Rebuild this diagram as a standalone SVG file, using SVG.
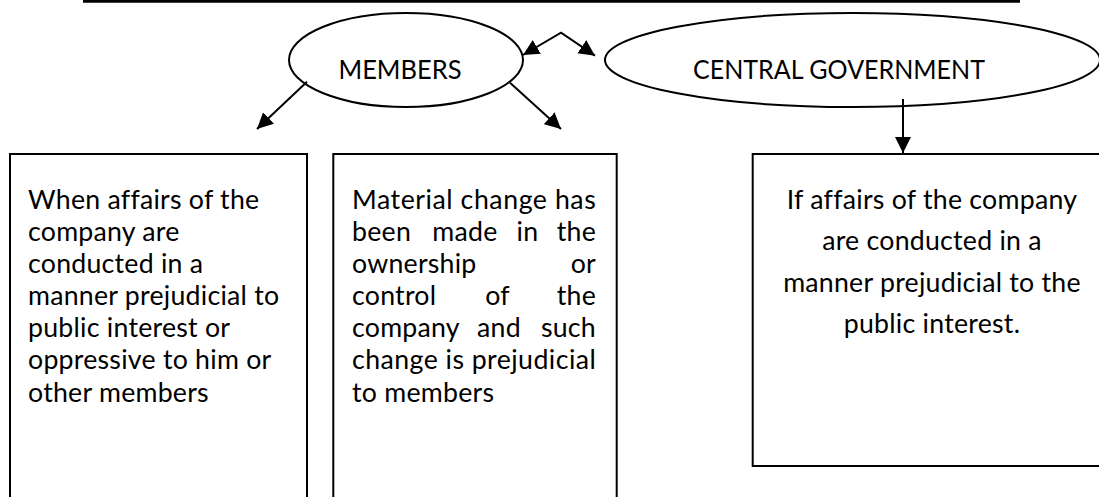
<svg xmlns="http://www.w3.org/2000/svg" width="1099" height="497" viewBox="0 0 1099 497">
  <style>
    .shape { fill: #ffffff; stroke: #000000; stroke-width: 2; }
    .conn { fill: none; stroke: #000000; stroke-width: 2; }
    .label { font-family: Lato, "Open Sans", "Liberation Sans", sans-serif; font-size: 26.7px; letter-spacing: 0.25px; fill: #000000; }
    .title { letter-spacing: 0; }
    .mid { text-anchor: middle; }
    .end { text-anchor: end; }
  </style>
  <defs>
    <marker id="head" viewBox="0 0 16 16" refX="16" refY="8" markerWidth="16" markerHeight="16" markerUnits="userSpaceOnUse" orient="auto-start-reverse">
      <path d="M0,0 L16,8 L0,16 z" fill="#000000"/>
    </marker>
  </defs>

  <rect width="1099" height="497" fill="#ffffff"/>

  <!-- heading rule -->
  <line x1="83" y1="1.3" x2="1020" y2="1.3" stroke="#000000" stroke-width="2.7"/>

  <g id="members">
    <ellipse class="shape" cx="406" cy="60" rx="117" ry="47"/>
    <text class="label title mid" x="400" y="79" textLength="123" lengthAdjust="spacingAndGlyphs">MEMBERS</text>
  </g>

  <g id="central-government">
    <ellipse class="shape" cx="852.5" cy="60" rx="247.5" ry="47"/>
    <text class="label title mid" x="839" y="79" textLength="292" lengthAdjust="spacingAndGlyphs">CENTRAL GOVERNMENT</text>
  </g>

  <g id="box-oppression">
    <rect class="shape" x="10" y="154" width="297" height="360"/>
    <text class="label" x="28" y="208.5">When affairs of the</text>
    <text class="label" x="28" y="240.7">company are</text>
    <text class="label" x="28" y="272.8">conducted in a</text>
    <text class="label" x="28" y="305">manner prejudicial to</text>
    <text class="label" x="28" y="337.1">public interest or</text>
    <text class="label" x="28" y="369.3">oppressive to him or</text>
    <text class="label" x="28" y="401.5">other members</text>
  </g>

  <!-- justified paragraph: words pinned to both margins (352 and 596) -->
  <g id="box-material-change">
    <rect class="shape" x="333.3" y="154" width="283.4" height="360"/>
    <text class="label" x="352" y="208.5" textLength="244">Material change has</text>
    <text class="label" y="240.7"><tspan x="352">been</tspan><tspan class="mid" x="465">made</tspan><tspan class="mid" x="527.5">in</tspan><tspan class="end" x="596">the</tspan></text>
    <text class="label" y="272.8"><tspan x="352">ownership</tspan><tspan class="end" x="596">or</tspan></text>
    <text class="label" y="305"><tspan x="352">control</tspan><tspan class="mid" x="497.5">of</tspan><tspan class="end" x="596">the</tspan></text>
    <text class="label" y="337.1"><tspan x="352">company</tspan><tspan class="mid" x="499">and</tspan><tspan class="end" x="596">such</tspan></text>
    <text class="label" x="352" y="369.3" textLength="244">change is prejudicial</text>
    <text class="label" x="352" y="401.5">to members</text>
  </g>

  <g id="box-public-interest">
    <rect class="shape" x="752.7" y="154" width="360" height="312"/>
    <text class="label mid" x="932" y="209">If affairs of the company</text>
    <text class="label mid" x="932" y="250.3">are conducted in a</text>
    <text class="label mid" x="932" y="291.7">manner prejudicial to the</text>
    <text class="label mid" x="932" y="333">public interest.</text>
  </g>

  <g id="connectors">
    <polyline class="conn" points="523,55 561,32.7 595,55.7" marker-start="url(#head)" marker-end="url(#head)"/>
    <line class="conn" x1="307" y1="81.7" x2="257" y2="129" marker-end="url(#head)"/>
    <line class="conn" x1="510" y1="82.7" x2="561" y2="129" marker-end="url(#head)"/>
    <line class="conn" x1="903" y1="99" x2="903" y2="153" marker-end="url(#head)"/>
  </g>
</svg>
